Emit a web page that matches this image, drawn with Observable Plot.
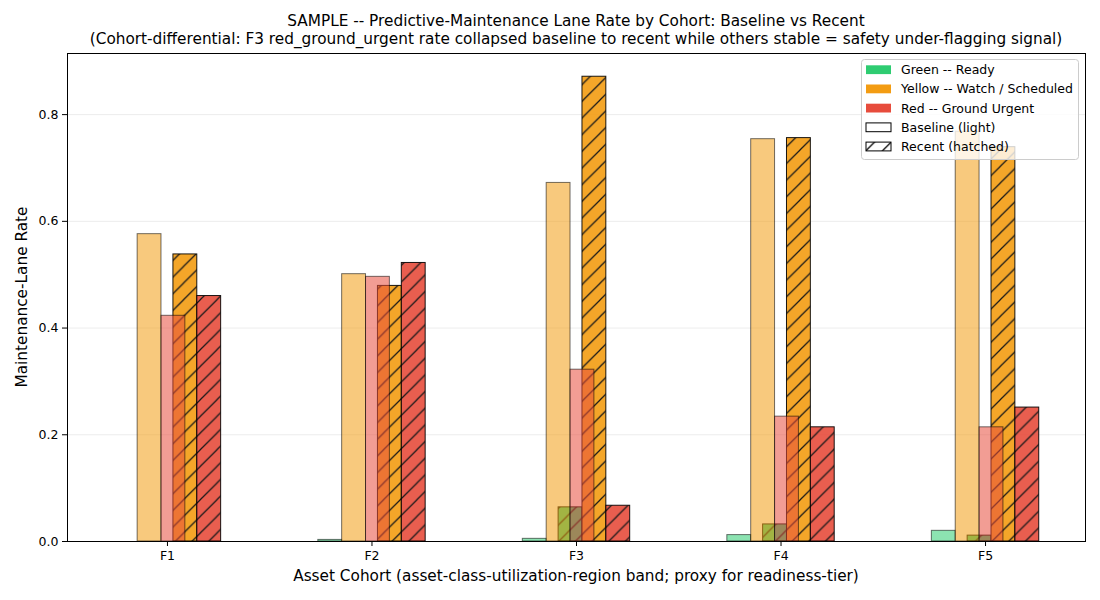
<!DOCTYPE html>
<html><head><meta charset="utf-8">
<script src="https://cdn.jsdelivr.net/npm/d3@7"></script>
<script src="https://cdn.jsdelivr.net/npm/@observablehq/plot@0.6"></script>
<style>
body{margin:0;background:#fff;font-family:"DejaVu Sans",sans-serif;color:#000;}
#wrap{position:relative;width:1100px;height:600px;overflow:hidden;}
#chart{position:absolute;left:0;top:0;}
.title{position:absolute;left:67px;width:1018px;text-align:center;font-size:15.3px;white-space:nowrap;}
.xlabel{position:absolute;left:67px;width:1018px;text-align:center;font-size:15.3px;top:567px;white-space:nowrap;}
.ylabel{position:absolute;left:22px;top:297px;font-size:15.3px;white-space:nowrap;transform:translate(-50%,-50%) rotate(-90deg);}
#legend{position:absolute;left:0;top:0;}
</style></head><body>
<div id="wrap">
<div id="chart"></div>
<div class="title" id="t1" style="top:12px">SAMPLE -- Predictive-Maintenance Lane Rate by Cohort: Baseline vs Recent</div>
<div class="title" id="t2" style="top:30px">(Cohort-differential: F3 red_ground_urgent rate collapsed baseline to recent while others stable = safety under-flagging signal)</div>
<div class="xlabel">Asset Cohort (asset-class-utilization-region band; proxy for readiness-tier)</div>
<div class="ylabel">Maintenance-Lane Rate</div>
</div>
<script>
const cohorts = ["F1", "F2", "F3", "F4", "F5"];
const laneNames = ["Green -- Ready", "Yellow -- Watch / Scheduled", "Red -- Ground Urgent"];
const laneKeys = ["green", "yellow", "red"];
const laneColors = ["#2ecc71", "#f39c12", "#e74c3c"];
const baselineGreen  = [0.000, 0.003, 0.005, 0.012, 0.020];
const baselineYellow = [0.576, 0.501, 0.672, 0.754, 0.768];
const baselineRed    = [0.423, 0.496, 0.322, 0.234, 0.214];
const recentGreen    = [0.000, 0.000, 0.064, 0.032, 0.011];
const recentYellow   = [0.538, 0.479, 0.871, 0.756, 0.739];
const recentRed      = [0.460, 0.522, 0.067, 0.214, 0.251];
const yTicks = [0, 0.2, 0.4, 0.6, 0.8];
const legendPeriods = ["Baseline (light)", "Recent (hatched)"];

const baseline = [baselineGreen, baselineYellow, baselineRed];
const recent = [recentGreen, recentYellow, recentRed];
const w = 0.35 / 3;
const baseOff = [-1.75, -0.75, 0.25];
const recOff = [-0.25, 0.75, 1.75];
const rows = (vals, off) => vals.map((v, i) => ({cohort: cohorts[i], x1: i + (off - 0.5) * w, x2: i + (off + 0.5) * w, y: v}));

const xExt = [0 - 2.25 * w, cohorts.length - 1 + 2.25 * w];
const xPad = (xExt[1] - xExt[0]) * 0.05;
const yMax = d3.max([...baseline, ...recent].flat()) * 1.05;

const marks = [Plot.gridY(yTicks.slice(1), {stroke: "#b0b0b0", strokeOpacity: 0.3, strokeWidth: 0.8})];
laneKeys.forEach((k, j) => {
  marks.push(Plot.rect(rows(baseline[j], baseOff[j]), {x1: "x1", x2: "x2", y1: 0, y2: "y", fill: laneColors[j], fillOpacity: 0.55, stroke: "black", strokeOpacity: 0.55, strokeWidth: 1}));
  marks.push(Plot.rect(rows(recent[j], recOff[j]), {x1: "x1", x2: "x2", y1: 0, y2: "y", fill: `url(#hatch-${k})`, fillOpacity: 0.9, stroke: "black", strokeOpacity: 0.9, strokeWidth: 1}));
});
marks.push(Plot.frame({stroke: "black", strokeWidth: 1}));
marks.push(Plot.axisX({ticks: d3.range(cohorts.length), tickFormat: i => cohorts[i], tickSize: 5, tickPadding: 5, label: null, fontSize: 12.5}));
marks.push(Plot.axisY({ticks: yTicks, tickFormat: d3.format(".1f"), tickSize: 5, tickPadding: 4, label: null, fontSize: 12.5}));

const chart = Plot.plot({
  width: 1100, height: 600,
  marginLeft: 67, marginRight: 15, marginTop: 53, marginBottom: 59,
  style: {fontFamily: "DejaVu Sans", fontSize: "12.5px", color: "#000", background: "transparent"},
  x: {type: "linear", domain: [xExt[0] - xPad, xExt[1] + xPad]},
  y: {domain: [0, yMax]},
  marks
});

// hatch patterns
const svg = d3.select(chart.tagName.toLowerCase() === "svg" ? chart : chart.querySelector("svg"));
const defs = svg.insert("defs", ":first-child");
const s = 100 / 6;
function addPattern(sel, id, color) {
  const p = sel.append("pattern").attr("id", id).attr("patternUnits", "userSpaceOnUse").attr("width", s).attr("height", s);
  p.append("rect").attr("width", s).attr("height", s).attr("fill", color);
  p.append("path").attr("d", `M0,${s} L${s},0 M${-s/2},${s/2} L${s/2},${-s/2} M${s/2},${s*1.5} L${s*1.5},${s/2}`).attr("stroke", "black").attr("stroke-width", 1.25).attr("fill", "none");
}
laneKeys.forEach((k, j) => addPattern(defs, `hatch-${k}`, laneColors[j]));
addPattern(defs, "hatch-white", "white");
document.getElementById("chart").appendChild(chart);

// legend
const lg = d3.select("#wrap").append("svg").attr("id", "legend").attr("width", 1100).attr("height", 600);
const lx = 861, ly = 59.5;
lg.append("rect").attr("x", lx + 0.5).attr("y", ly).attr("width", 217).attr("height", 100).attr("rx", 3)
  .attr("fill", "white").attr("fill-opacity", 0.8).attr("stroke", "#cccccc").attr("stroke-width", 1);
const rowY = [69.7, 88.9, 108.1, 127.3, 146.5];
const items = laneNames.map((n, j) => ({label: n, fill: laneColors[j], stroke: "none"}))
  .concat([{label: legendPeriods[0], fill: "white", stroke: "black"}, {label: legendPeriods[1], fill: "url(#hatch-white)", stroke: "black"}]);
items.forEach((it, i) => {
  lg.append("rect").attr("x", 866).attr("y", rowY[i] - 4.4).attr("width", 25).attr("height", 8.8)
    .attr("fill", it.fill).attr("stroke", it.stroke).attr("stroke-width", 1);
  lg.append("text").attr("x", 901).attr("y", rowY[i]).attr("dy", "0.36em").attr("font-size", 12.5)
    .attr("font-family", "DejaVu Sans").text(it.label);
});
</script>
</body></html>
